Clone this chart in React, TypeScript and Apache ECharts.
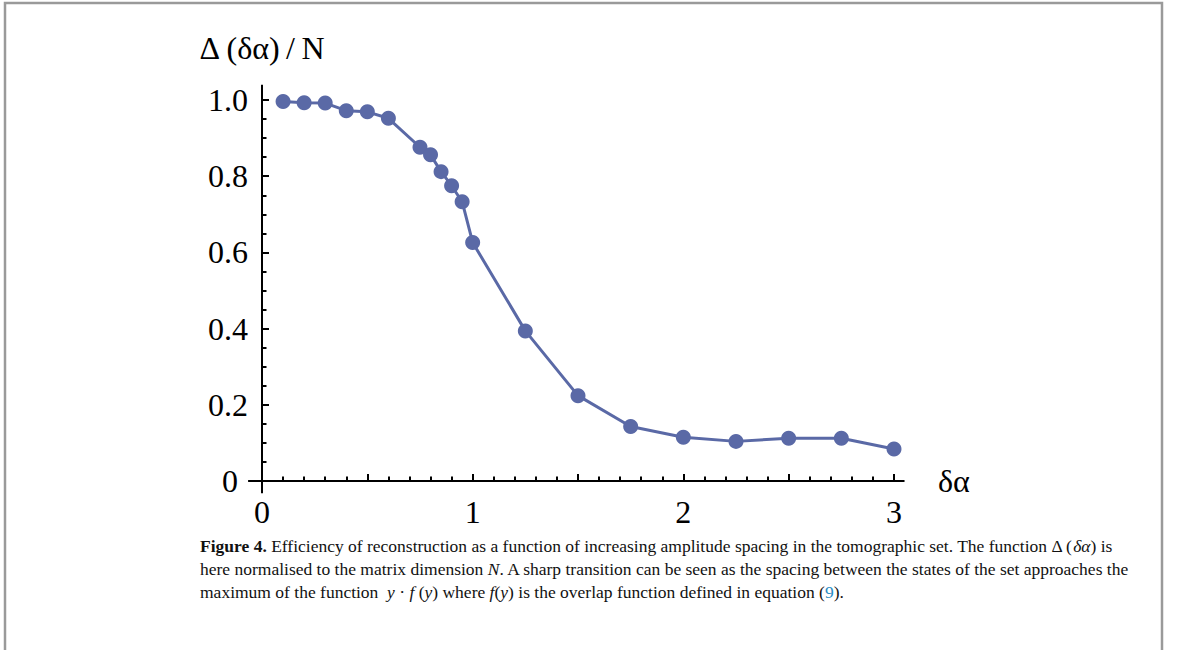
import React, { useEffect, useRef } from 'react';
import * as echarts from 'echarts';

const deltaAlpha = [0.1, 0.2, 0.3, 0.4, 0.5, 0.6, 0.75, 0.8, 0.85, 0.9, 0.95, 1.0, 1.25, 1.5, 1.75, 2.0, 2.25, 2.5, 2.75, 3.0];
const efficiency = [0.996, 0.993, 0.992, 0.972, 0.969, 0.952, 0.876, 0.856, 0.812, 0.775, 0.733, 0.626, 0.394, 0.224, 0.143, 0.115, 0.104, 0.112, 0.112, 0.084];
const xTickLabels = ['0', '1', '2', '3'];
const yTickLabels = ['0', '0.2', '0.4', '0.6', '0.8', '1.0'];
const yAxisTitle = 'Δ\u2009(δα)\u2009/\u2009N';
const xAxisTitle = 'δα';
const captionLines = [
  '{b|Figure 4.} Efficiency of reconstruction as a function of increasing amplitude spacing in the tomographic set. The function Δ ({i|δα}) is',
  'here normalised to the matrix dimension {i|N}. A sharp transition can be seen as the spacing between the states of the set approaches the',
  'maximum of the function  {i|y} · {i|f} ({i|y}) where {i|f}({i|y}) is the overlap function defined in equation ({c|9}).',
];

const COLOR = '#5a69a6';
const MATH_FONT = '"Liberation Serif", "DejaVu Serif", serif';
const TEXT_FONT = '"Liberation Serif", serif';

export default function App() {
  const ref = useRef<HTMLDivElement>(null);
  useEffect(() => {
    if (!ref.current) return;
    const chart = echarts.init(ref.current, null, { renderer: 'svg' });
    const data = deltaAlpha.map((x, i) => [x, efficiency[i]]);
    const tickStyle = { color: '#000', width: 2 };
    chart.setOption({
      animation: false,
      grid: { left: 262, top: 100, width: 632, height: 381, containLabel: false },
      xAxis: {
        type: 'value',
        min: 0,
        max: 3,
        interval: 0.5,
        name: xAxisTitle,
        nameLocation: 'end',
        nameGap: 44,
        nameTextStyle: { fontFamily: MATH_FONT, fontSize: 32, color: '#000' },
        axisLine: { show: false },
        axisTick: { show: true, inside: true, length: 7, lineStyle: tickStyle },
        minorTick: { show: true, splitNumber: 5, length: 4.5, lineStyle: tickStyle },
        splitLine: { show: false },
        minorSplitLine: { show: false },
        axisLabel: {
          margin: 15,
          fontFamily: MATH_FONT,
          fontSize: 32,
          color: '#000',
          formatter: (v: number) => (Math.abs(v - Math.round(v)) < 1e-6 ? xTickLabels[Math.round(v)] : ''),
        },
      },
      yAxis: {
        type: 'value',
        min: 0,
        max: 1,
        interval: 0.2,
        name: yAxisTitle,
        nameLocation: 'end',
        nameGap: 36,
        nameTextStyle: { fontFamily: MATH_FONT, fontSize: 32, color: '#000' },
        axisLine: { show: false },
        axisTick: { show: true, inside: true, length: 7, lineStyle: tickStyle },
        minorTick: { show: true, splitNumber: 4, length: 4.5, lineStyle: tickStyle },
        splitLine: { show: false },
        minorSplitLine: { show: false },
        axisLabel: {
          margin: 14,
          fontFamily: MATH_FONT,
          fontSize: 32,
          color: '#000',
          formatter: (v: number) => {
            const i = Math.round(v / 0.2);
            return i === 0 ? '{z|' + yTickLabels[0] + '}' : yTickLabels[i] ?? '';
          },
          rich: { z: { fontFamily: MATH_FONT, fontSize: 32, color: '#000', padding: [0, 10, 0, 0] } },
        },
      },
      series: [
        {
          type: 'line',
          data,
          clip: false,
          symbol: 'circle',
          symbolSize: 15,
          lineStyle: { color: COLOR, width: 3 },
          itemStyle: { color: COLOR },
        },
      ],
    });

    const px = (x: number, y: number) => chart.convertToPixel({ gridIndex: 0 }, [x, y]) as number[];
    const xStart = px(-0.066, 0);
    const xEnd = px(3.05, 0);
    const yStart = px(0, -0.032);
    const yEnd = px(0, 1.04);

    chart.setOption({
      graphic: [
        { type: 'line', shape: { x1: xStart[0], y1: xStart[1], x2: xEnd[0], y2: xEnd[1] }, style: { stroke: '#000', lineWidth: 2 } },
        { type: 'line', shape: { x1: yStart[0], y1: yStart[1], x2: yEnd[0], y2: yEnd[1] }, style: { stroke: '#000', lineWidth: 2 } },
        { type: 'polyline', shape: { points: [[5, 650], [5, 3], [1162, 3], [1162, 650]] }, style: { stroke: '#9a9a9a', lineWidth: 2.5, fill: 'none' } },
        {
          type: 'text',
          left: 200,
          top: 534,
          style: {
            text: captionLines.join('\n'),
            fontFamily: TEXT_FONT,
            fontSize: 17.5,
            lineHeight: 23,
            fill: '#111',
            rich: {
              b: { fontFamily: TEXT_FONT, fontSize: 17.5, fontWeight: 'bold', fill: '#111', lineHeight: 23 },
              i: { fontFamily: TEXT_FONT, fontSize: 17.5, fontStyle: 'italic', fill: '#111', lineHeight: 23 },
              c: { fontFamily: TEXT_FONT, fontSize: 17.5, fill: '#2a8cc4', lineHeight: 23 },
            },
          },
        },
      ],
    });

    return () => chart.dispose();
  }, []);
  return <div ref={ref} style={{ position: 'absolute', left: 0, top: 0, width: 1179, height: 650 }} />;
}
